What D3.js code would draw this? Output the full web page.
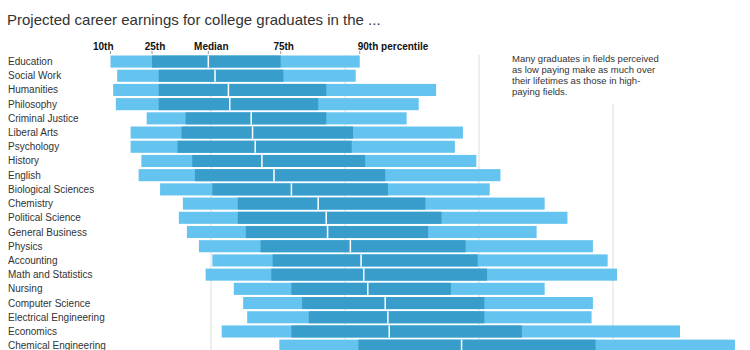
<!DOCTYPE html>
<html>
<head>
<meta charset="utf-8">
<script src="https://cdn.jsdelivr.net/npm/d3@7"></script>
<style>
  body { margin: 0; background: #fff; }
  svg { display: block; font-family: "Liberation Sans", Arial, sans-serif; }
</style>
</head>
<body>
<svg width="750" height="350"></svg>
<script>
// career earnings, millions of dollars
const majors = ["Education", "Social Work", "Humanities", "Philosophy", "Criminal Justice",
  "Liberal Arts", "Psychology", "History", "English", "Biological Sciences", "Chemistry",
  "Political Science", "General Business", "Physics", "Accounting", "Math and Statistics",
  "Nursing", "Computer Science", "Electrical Engineering", "Economics", "Chemical Engineering"];
const p10 = [0.25, 0.30, 0.27, 0.29, 0.52, 0.40, 0.40, 0.48, 0.46, 0.62, 0.79,
  0.76, 0.82, 0.91, 1.01, 0.96, 1.17, 1.24, 1.27, 1.08, 1.51];
const p25 = [0.56, 0.61, 0.61, 0.61, 0.81, 0.78, 0.75, 0.86, 0.88, 1.01, 1.20,
  1.20, 1.26, 1.37, 1.46, 1.45, 1.60, 1.68, 1.73, 1.60, 2.10];
const p50 = [0.98, 1.03, 1.13, 1.14, 1.30, 1.31, 1.33, 1.38, 1.47, 1.60, 1.80,
  1.86, 1.87, 2.04, 2.12, 2.14, 2.17, 2.30, 2.32, 2.33, 2.87];
const p75 = [1.52, 1.54, 1.86, 1.80, 1.86, 2.06, 2.05, 2.15, 2.30, 2.32, 2.60,
  2.72, 2.62, 2.90, 2.99, 3.06, 2.79, 3.04, 3.04, 3.32, 3.87];
const p90 = [2.11, 2.08, 2.68, 2.55, 2.46, 2.88, 2.82, 2.98, 3.16, 3.08, 3.49,
  3.66, 3.43, 3.85, 3.96, 4.03, 3.49, 3.85, 3.84, 4.50, 4.91];
const percentileLabels = ["10th", "25th", "Median", "75th", "90th percentile"];
const gridValues = [1, 2, 3, 4];
const note = ["Many graduates in fields perceived", "as low paying make as much over",
  "their lifetimes as those in high-", "paying fields."];

const light = "#64c3ef", dark = "#389dca";
const svg = d3.select("svg");

const x = d3.scaleLinear().domain([0, 4]).range([77, 613]);
const y = d3.scaleBand().domain(majors).range([54.5, 54.5 + majors.length * 14.2]).paddingInner(0.15).paddingOuter(0.07);

// title
svg.append("text")
  .attr("x", 7).attr("y", 25)
  .attr("font-size", 15).attr("fill", "#333")
  .text("Projected career earnings for college graduates in the ...");

// gridlines
svg.append("g").selectAll("line")
  .data(gridValues).join("line")
  .attr("x1", d => x(d)).attr("x2", d => x(d))
  .attr("y1", 55).attr("y2", 350)
  .attr("stroke", "#ddd").attr("stroke-width", 1);

// annotation (white box hides gridline)
const noteG = svg.append("g").attr("transform", "translate(512, 62)");
noteG.append("rect").attr("x", -2).attr("y", -10).attr("width", 156).attr("height", 52).attr("fill", "#fff");
noteG.selectAll("text").data(note).join("text")
  .attr("x", 0).attr("y", (d, i) => i * 11)
  .attr("font-size", 9.5).attr("fill", "#333")
  .text(d => d);

// header labels, placed at Education's percentiles
const first = [p10[0], p25[0], p50[0], p75[0], p90[0]];
const header = svg.append("g");
header.selectAll("text").data(percentileLabels).join("text")
  .attr("x", (d, i) => x(first[i]) + (i === 0 ? 3 : i === 4 ? -2 : 3))
  .attr("y", 49.5)
  .attr("text-anchor", (d, i) => i === 0 ? "end" : i === 4 ? "start" : "middle")
  .attr("font-size", 10).attr("font-weight", "bold").attr("fill", "#111")
  .text(d => d);
header.selectAll("line").data(first).join("line")
  .attr("x1", d => x(d)).attr("x2", d => x(d))
  .attr("y1", 51).attr("y2", 54)
  .attr("stroke", "#999");

// category labels
svg.append("g").selectAll("text")
  .data(majors).join("text")
  .attr("x", 8).attr("y", d => y(d) + y.bandwidth() / 2)
  .attr("dy", "0.35em")
  .attr("font-size", 10).attr("fill", "#333")
  .text(d => d);

// bars
const rows = svg.append("g").selectAll("g")
  .data(majors).join("g")
  .attr("transform", d => `translate(0, ${y(d)})`);

rows.append("rect")
  .attr("x", (d, i) => x(p10[i]))
  .attr("width", (d, i) => x(p90[i]) - x(p10[i]))
  .attr("height", y.bandwidth())
  .attr("fill", light);

rows.append("rect")
  .attr("x", (d, i) => x(p25[i]))
  .attr("width", (d, i) => x(p75[i]) - x(p25[i]))
  .attr("height", y.bandwidth())
  .attr("fill", dark);

rows.append("line")
  .attr("x1", (d, i) => x(p50[i])).attr("x2", (d, i) => x(p50[i]))
  .attr("y1", 0).attr("y2", y.bandwidth())
  .attr("stroke", "#fff").attr("stroke-width", 1.5);
</script>
</body>
</html>
